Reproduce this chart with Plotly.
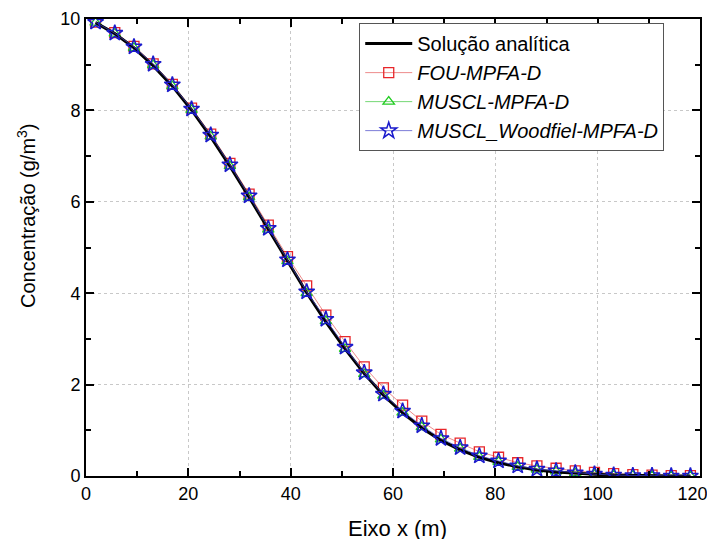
import plotly.graph_objects as go

x = [1.875, 5.625, 9.375, 13.125, 16.875, 20.625, 24.375, 28.125, 31.875, 35.625,
     39.375, 43.125, 46.875, 50.625, 54.375, 58.125, 61.875, 65.625, 69.375, 73.125,
     76.875, 80.625, 84.375, 88.125, 91.875, 95.625, 99.375, 103.125, 106.875, 110.625,
     114.375, 118.125]

analitica = [9.92, 9.68, 9.37, 8.98, 8.53, 8.01, 7.42, 6.78, 6.10, 5.40,
             4.70, 4.01, 3.37, 2.78, 2.24, 1.77, 1.38, 1.05, 0.78, 0.57,
             0.41, 0.29, 0.20, 0.13, 0.09, 0.06, 0.04, 0.02, 0.01, 0.01, 0.0, 0.0]

fou = [9.93, 9.70, 9.40, 9.02, 8.57, 8.05, 7.48, 6.84, 6.17, 5.49,
       4.80, 4.16, 3.52, 2.94, 2.39, 1.93, 1.55, 1.20, 0.91, 0.72,
       0.53, 0.41, 0.29, 0.22, 0.17, 0.11, 0.08, 0.05, 0.03, 0.02, 0.01, 0.01]

muscl = [9.92, 9.68, 9.37, 8.99, 8.53, 8.01, 7.43, 6.78, 6.10, 5.39,
         4.70, 4.00, 3.39, 2.78, 2.23, 1.76, 1.39, 1.07, 0.80, 0.60,
         0.42, 0.31, 0.20, 0.14, 0.10, 0.06, 0.03, 0.02, 0.01, 0.0, 0.0, 0.0]

woodfiel = [9.93, 9.69, 9.39, 9.01, 8.56, 8.03, 7.46, 6.81, 6.13, 5.42,
            4.73, 4.03, 3.43, 2.82, 2.26, 1.79, 1.42, 1.10, 0.82, 0.62,
            0.44, 0.33, 0.22, 0.15, 0.11, 0.07, 0.04, 0.02, 0.01, 0.01, 0.0, 0.0]

x_ticks = [0, 20, 40, 60, 80, 100, 120]
# the last label sits a little left, as in the original
x_ticklabels = ['0', '20', '40', '60', '80', '100', '120\u00a0\u00a0\u00a0']

fig = go.Figure()
fig.add_trace(go.Scatter(x=x, y=fou, mode='lines+markers', name='<i>FOU-MPFA-D</i>',
                         legendrank=2,
                         line=dict(color='rgba(230,90,90,0.7)', width=1),
                         marker=dict(symbol='square-open', size=10, color='#e8262a',
                                     line=dict(width=1.3))))
fig.add_trace(go.Scatter(x=x, y=muscl, mode='lines+markers', name='<i>MUSCL-MPFA-D</i>',
                         legendrank=3,
                         line=dict(color='rgba(60,200,60,0.7)', width=1),
                         marker=dict(symbol='triangle-up-open', size=10, color='#22cc22',
                                     line=dict(width=1.3))))
fig.add_trace(go.Scatter(x=x, y=analitica, mode='lines', name='Solução analítica',
                         legendrank=1,
                         line=dict(color='black', width=3)))
fig.add_trace(go.Scatter(x=x, y=woodfiel, mode='lines+markers',
                         name='<i>MUSCL_Woodfiel-MPFA-D</i>',
                         legendrank=4,
                         line=dict(color='rgba(70,70,200,0.7)', width=1),
                         marker=dict(symbol='star-open', size=12, color='#1a1acc',
                                     line=dict(width=1.5))))

axis_style = dict(showline=True, linecolor='black', linewidth=2, mirror='allticks',
                  ticks='inside', ticklen=8, tickwidth=1.5, tickcolor='black',
                  showgrid=True, gridcolor='#c8c8c8', griddash='dot', gridwidth=1,
                  zeroline=False, automargin=False, tickfont=dict(size=18, color='black'))

fig.update_xaxes(range=[0, 120], tickvals=x_ticks, ticktext=x_ticklabels,
                 minor=dict(ticks='inside', dtick=10, ticklen=5, tickcolor='black', showgrid=False),
                 **axis_style)
fig.update_yaxes(range=[0, 10], dtick=2,
                 minor=dict(ticks='inside', dtick=1, ticklen=5, tickcolor='black', showgrid=False),
                 **axis_style)

# axis titles as annotations so they sit where the original has them
fig.add_annotation(text='Eixo x (m)', xref='paper', yref='paper', x=0.508, y=-0.114,
                   xanchor='center', yanchor='middle', showarrow=False, font=dict(size=22))
fig.add_annotation(text='Concentração (g/m<sup>3</sup>)', xref='paper', yref='paper',
                   x=-0.096, y=0.569, xanchor='center', yanchor='middle',
                   textangle=-90, showarrow=False, font=dict(size=20))

# page body adds an 8px margin; margins are shifted to keep the plot area in place
fig.update_layout(width=715, height=539,
                  margin=dict(l=78, r=23, t=11, b=71),
                  plot_bgcolor='white', paper_bgcolor='white',
                  font=dict(family='Liberation Sans, Arial, sans-serif', color='black'),
                  legend=dict(x=0.445, y=0.991, xanchor='left', yanchor='top',
                              bgcolor='white', bordercolor='#555', borderwidth=1,
                              font=dict(size=20), tracegroupgap=0, itemwidth=47))

fig.write_html("out.html")
